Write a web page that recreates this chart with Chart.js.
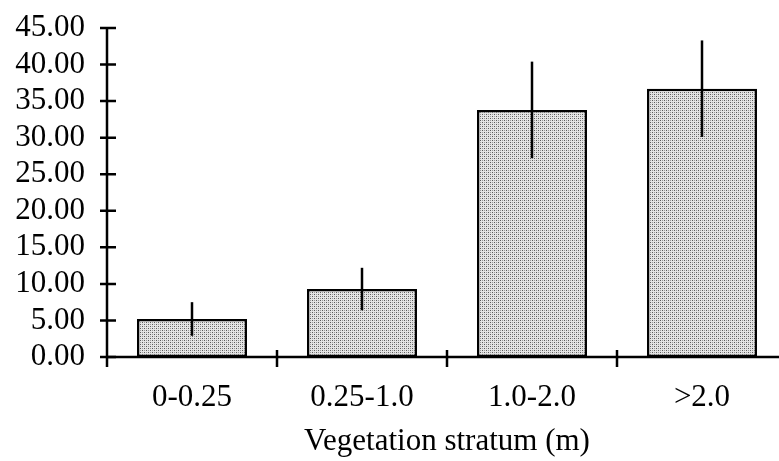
<!DOCTYPE html>
<html>
<head>
<meta charset="utf-8">
<script src="https://cdn.jsdelivr.net/npm/chart.js@4"></script>
<style>
  html, body { margin: 0; padding: 0; background: #fff; overflow: hidden; }
  #wrap { width: 790px; height: 461px; }
</style>
</head>
<body>
<div id="wrap"><canvas id="chart"></canvas></div>
<script>
const strata = ["0-0.25", "0.25-1.0", "1.0-2.0", ">2.0"];
const means = [5.2, 9.3, 33.8, 36.7];
const errors = [2.3, 2.9, 6.6, 6.6];
const yTicks = [0, 5, 10, 15, 20, 25, 30, 35, 40, 45];

// stippled fill like the original
function makePattern() {
    const c = document.createElement("canvas");
    c.width = 4;
    c.height = 4;
    const g = c.getContext("2d");
    g.fillStyle = "#e4e4e4";
    g.fillRect(0, 0, 4, 4);
    g.fillStyle = "#5a5a5a";
    g.fillRect(0, 0, 1, 1);
    g.fillRect(2, 2, 1, 1);
    g.fillStyle = "#9a9a9a";
    g.fillRect(2, 0, 1, 1);
    g.fillRect(0, 2, 1, 1);
    return g.createPattern(c, "repeat");
}

const axesAndErrors = {
    id: "axesAndErrors",
    afterDatasetsDraw(chart) {
        const ctx = chart.ctx;
        const x = chart.scales.x;
        const y = chart.scales.y;
        const area = chart.chartArea;
        ctx.save();
        ctx.strokeStyle = "#000";
        ctx.lineWidth = 2.5;
        ctx.lineCap = "butt";

        // error bars
        const meta = chart.getDatasetMeta(0);
        meta.data.forEach((bar, i) => {
            ctx.beginPath();
            ctx.moveTo(bar.x, y.getPixelForValue(means[i] + errors[i]));
            ctx.lineTo(bar.x, y.getPixelForValue(means[i] - errors[i]));
            ctx.stroke();
        });

        // axis lines
        ctx.beginPath();
        ctx.moveTo(area.left, y.getPixelForValue(45));
        ctx.lineTo(area.left, area.bottom + 10);
        ctx.moveTo(area.left, area.bottom);
        ctx.lineTo(area.right, area.bottom);
        ctx.stroke();

        // y ticks crossing the axis
        ctx.beginPath();
        yTicks.forEach(v => {
            const py = y.getPixelForValue(v);
            ctx.moveTo(area.left - 7, py);
            ctx.lineTo(area.left + 9, py);
        });
        // x ticks between categories
        for (let i = 1; i < strata.length; i++) {
            const px = x.getPixelForValue(i - 0.5);
            ctx.moveTo(px, area.bottom - 7);
            ctx.lineTo(px, area.bottom + 10);
        }
        ctx.stroke();
        ctx.restore();
    }
};

const font = "'Liberation Serif', 'Times New Roman', serif";

new Chart(document.getElementById("chart"), {
    type: "bar",
    data: {
        labels: strata,
        datasets: [
            {
                data: means,
                backgroundColor: makePattern(),
                borderColor: "#000",
                borderWidth: 2.5,
                borderSkipped: false,
                categoryPercentage: 1,
                barPercentage: 0.647,
            },
        ],
    },
    options: {
        responsive: true,
        maintainAspectRatio: false,
        animation: false,
        layout: { padding: { top: 28, right: 3, left: 0, bottom: 1 } },
        plugins: {
            legend: { display: false },
            tooltip: { enabled: false },
        },
        scales: {
            x: {
                grid: { display: false, drawTicks: false },
                border: { display: false },
                ticks: {
                    color: "#000",
                    padding: 22,
                    autoSkip: false,
                    maxRotation: 0,
                    font: { family: font, size: 31 },
                },
                title: {
                    display: true,
                    text: "Vegetation stratum (m)",
                    color: "#000",
                    font: { family: font, size: 31 },
                    padding: { top: 0, bottom: 0 },
                },
                afterFit: s => {
                    s.height = 103;
                    s.paddingLeft = 0;
                    s.paddingRight = 0;
                },
            },
            y: {
                min: 0,
                max: 45,
                grid: { display: false, drawTicks: false },
                border: { display: false },
                ticks: {
                    stepSize: 5,
                    autoSkip: false,
                    color: "#000",
                    padding: 22,
                    font: { family: font, size: 31 },
                    callback: v => v.toFixed(2),
                },
                afterFit: s => {
                    s.width = 107;
                    s.paddingTop = 0;
                    s.paddingBottom = 0;
                },
            },
        },
    },
    plugins: [axesAndErrors],
});
</script>
</body>
</html>
